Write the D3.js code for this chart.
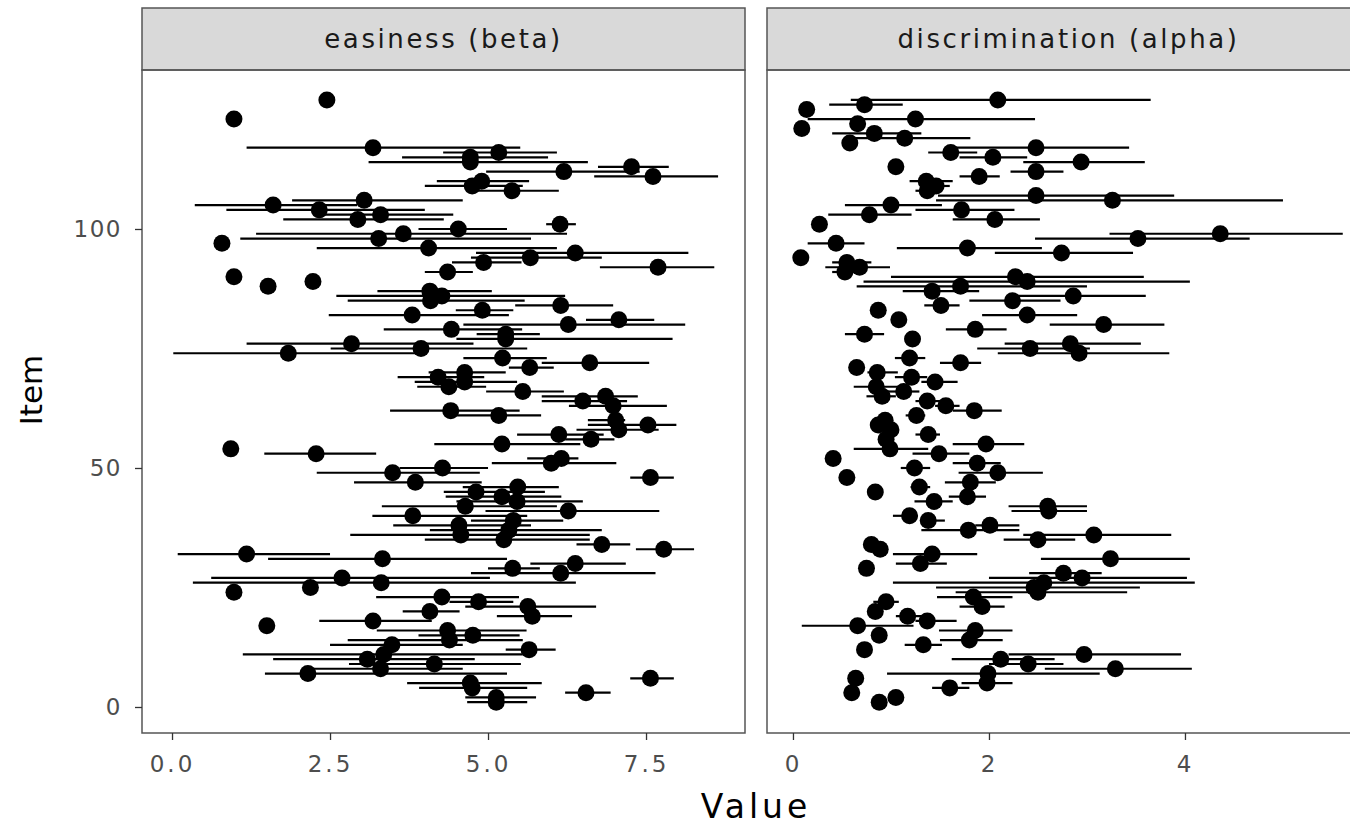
<!DOCTYPE html>
<html lang="en">
<head>
<meta charset="UTF-8">
<title>Item parameters</title>
<script src="https://d3js.org/d3.v7.min.js"></script>
<style>
  body { margin: 0; background: #fff; }
  .axis text { font-family: 'DejaVu Sans', sans-serif; font-size: 23px; fill: #4d4d4d; letter-spacing: 1.5px; }
  .axis.x text { letter-spacing: 3px; }
  .axis line { stroke: #333; stroke-width: 1.3px; }
  .axis path { display: none; }
  .strip text { font-family: 'DejaVu Sans', sans-serif; font-size: 26px; fill: #1a1a1a; letter-spacing: 2.6px; }
  .title { font-family: 'DejaVu Sans', sans-serif; font-size: 31px; fill: #000; }
  .title.xt { font-size: 33px; letter-spacing: 4px; }
</style>
</head>
<body>
<div id="chart"></div>
<script>
// easiness (beta): item, estimate, interval (null = no bar drawn)
const betaItem  = [127,123,117,116,115,114,113,112,111,110,109,108,106,105,104,103,102,101,100,99,98,97,96,95,94,93,92,91,90,89,88,87,86,85,84,83,82,81,80,79,78,77,76,75,74,73,72,71,70,69,68,67,66,65,64,63,62,61,60,59,58,57,56,55,54,53,52,51,50,49,48,47,46,45,44,43,42,41,40,39,38,37,36,35,34,33,32,31,30,29,28,27,26,25,24,23,22,21,20,19,18,17,16,15,14,13,12,11,10,9,8,7,6,5,4,3,2,1];
const betaValue = [2.45,0.98,3.18,5.17,4.72,4.72,7.27,6.20,7.61,4.90,4.75,5.38,3.04,1.60,2.33,3.30,2.94,6.14,4.53,3.66,3.27,0.79,4.06,6.38,5.67,4.93,7.69,4.36,0.98,2.23,1.52,4.08,4.27,4.09,6.15,4.91,3.80,7.07,6.27,4.42,5.28,5.28,2.84,3.94,1.84,5.23,6.61,5.66,4.63,4.21,4.63,4.38,5.55,6.86,6.50,6.98,4.41,5.17,7.02,7.53,7.07,6.12,6.63,5.22,0.93,2.28,6.16,6.00,4.28,3.49,7.57,3.85,5.47,4.81,5.22,5.46,4.64,6.27,3.81,5.40,4.54,5.33,4.57,5.25,6.80,7.78,1.18,3.33,6.38,5.39,6.15,2.69,3.31,2.19,0.98,4.27,4.85,5.63,4.08,5.70,3.18,1.50,4.36,4.76,4.39,3.48,5.65,3.35,3.09,4.15,3.30,2.15,7.57,4.72,4.75,6.55,5.13,5.13];
const betaLow   = [null,null,1.18,4.29,3.64,3.11,6.74,4.97,6.68,4.19,4.00,4.70,1.90,0.36,0.86,2.40,1.76,5.92,3.90,1.33,1.08,null,2.29,4.81,4.73,4.43,6.77,4.00,null,null,null,3.25,2.60,2.78,5.43,4.49,2.48,6.55,4.61,3.35,4.82,4.50,1.18,2.51,0.02,4.61,5.85,5.33,4.06,3.57,3.84,3.88,4.97,5.85,5.85,6.28,3.45,4.51,6.58,6.58,6.40,5.46,6.22,4.15,null,1.46,5.62,5.06,3.60,2.29,7.25,2.88,4.60,4.30,4.33,4.50,3.32,4.96,3.17,4.73,3.50,4.08,2.82,4.00,6.40,7.34,0.09,1.52,5.67,5.00,4.73,0.62,0.33,null,null,3.23,4.39,4.64,3.65,5.14,2.33,null,3.24,3.90,2.78,2.50,5.28,1.12,1.60,2.80,2.20,1.47,7.25,3.72,3.91,6.22,4.64,4.67];
const betaHigh  = [null,null,5.51,6.09,5.95,6.58,7.86,7.40,8.64,5.65,5.55,6.12,4.60,2.93,4.00,4.45,4.30,6.39,5.30,6.25,5.68,null,6.09,8.17,6.80,5.53,8.58,4.76,null,null,null,5.06,6.22,5.58,6.98,5.40,5.33,7.63,8.12,5.54,5.82,7.92,4.77,5.62,3.91,5.93,7.55,6.04,5.28,4.94,5.46,4.97,6.20,7.37,7.20,7.83,5.50,5.84,7.17,7.98,7.70,6.83,7.00,6.46,null,3.23,6.43,7.03,5.00,4.87,7.94,4.90,6.12,5.90,6.16,6.50,6.09,7.71,5.62,6.19,5.68,6.80,6.61,6.61,7.25,8.26,2.50,5.30,7.18,5.82,7.65,5.03,6.39,null,null,5.49,5.40,6.71,4.55,6.33,4.11,null,5.61,5.50,5.55,4.60,6.07,5.55,4.79,5.52,4.60,5.30,7.94,5.85,5.62,6.94,5.76,5.62];

// discrimination (alpha)
const alphaItem  = [127,126,125,123,122,121,120,119,118,117,116,115,114,113,112,111,110,109,108,107,106,105,104,103,102,101,99,98,97,96,95,94,93,92,91,90,89,88,87,86,85,84,83,82,81,80,79,78,77,76,75,74,73,72,71,70,69,68,67,66,65,64,63,62,61,60,59,58,57,56,55,54,53,52,51,50,49,48,47,46,45,44,43,42,41,40,39,38,37,36,35,34,33,32,31,30,29,28,27,26,25,24,23,22,21,20,19,18,17,16,15,14,13,12,11,10,9,8,7,6,5,4,3,2,1];
const alphaValue = [2.09,0.73,0.14,1.25,0.66,0.09,0.83,1.14,0.58,2.48,1.61,2.04,2.94,1.05,2.48,1.90,1.36,1.46,1.37,2.48,3.26,1.00,1.72,0.78,2.06,0.27,4.36,3.52,0.44,1.78,2.74,0.08,0.55,0.68,0.53,2.27,2.39,1.71,1.42,2.86,2.24,1.51,0.87,2.39,1.08,3.17,1.86,0.73,1.22,2.83,2.42,2.92,1.19,1.71,0.65,0.86,1.21,1.45,0.85,1.13,0.91,1.37,1.56,1.85,1.26,0.94,0.87,1.00,1.38,0.95,1.97,0.99,1.49,0.41,1.88,1.24,2.09,0.55,1.81,1.29,0.84,1.78,1.44,2.60,2.61,1.19,1.38,2.01,1.79,3.07,2.50,0.80,0.89,1.42,3.24,1.30,0.75,2.76,2.95,2.56,2.46,2.50,1.84,0.95,1.93,0.84,1.17,1.37,0.66,1.86,0.88,1.80,1.33,0.73,2.97,2.12,2.40,3.29,1.99,0.64,1.98,1.60,0.60,1.05,0.88];
const alphaLow   = [0.59,0.37,null,0.15,null,null,0.40,0.60,null,1.61,1.38,1.70,2.35,null,2.22,1.70,1.19,1.30,1.25,1.48,1.46,0.53,1.25,0.36,1.63,null,3.23,2.47,0.15,1.06,2.06,null,0.40,0.33,0.40,1.00,0.72,0.65,1.12,2.20,1.80,1.34,null,1.93,null,2.62,1.56,0.53,null,2.16,1.88,2.09,1.04,1.50,null,0.76,1.04,1.31,0.62,0.97,0.75,1.25,1.45,1.63,1.15,null,null,null,1.25,null,1.63,0.62,1.22,null,1.63,1.10,1.69,null,1.55,1.20,null,1.59,1.24,2.20,2.23,1.02,1.31,1.86,1.31,2.35,2.15,null,null,1.02,2.53,1.05,null,2.41,2.00,1.02,1.46,1.66,1.47,0.82,1.70,null,1.05,1.25,0.09,1.49,null,1.50,1.14,null,2.20,1.62,2.00,2.57,0.96,null,1.72,1.42,null,null,null];
const alphaHigh  = [3.65,1.12,null,2.47,null,null,1.31,1.81,null,3.43,1.88,2.39,3.59,null,2.76,2.11,1.63,1.60,1.50,3.89,5.00,1.52,2.26,1.21,2.52,null,5.61,4.66,0.73,2.54,3.47,null,0.80,0.99,0.70,3.58,4.05,3.00,1.90,3.60,2.73,1.70,null,2.90,null,3.79,2.18,0.93,null,3.55,3.03,3.84,1.35,1.92,null,1.07,1.37,1.68,1.15,1.29,1.05,1.50,1.70,2.13,1.35,null,null,null,1.50,null,2.36,1.38,1.80,null,2.12,1.40,2.55,null,2.07,1.40,null,1.97,1.63,3.00,3.00,1.27,1.55,2.31,2.31,3.86,2.88,null,null,1.88,4.05,1.57,null,3.15,4.02,4.10,3.54,3.41,2.24,1.08,2.16,null,1.40,1.67,1.23,2.24,null,2.14,1.52,null,3.96,2.67,2.76,4.07,3.13,null,2.24,1.80,null,null,null];

const stripLabels = ["easiness (beta)", "discrimination (alpha)"];
const itemTicks = [0, 50, 100];

const width = 1350, height = 830;
const panelTop = 70, panelBottom = 733, stripTop = 8;

const svg = d3.select('#chart').append('svg')
  .attr('width', width)
  .attr('height', height);

const y = d3.scaleLinear().domain([-5.44, 133.26]).range([panelBottom, panelTop]);

const panels = [
  { label: stripLabels[0], x0: 142, x1: 745, domain: [-0.475, 9.066], ticks: [0, 2.5, 5, 7.5], fmt: d3.format('.1f'),
    item: betaItem, value: betaValue, low: betaLow, high: betaHigh },
  { label: stripLabels[1], x0: 767, x1: 1370, domain: [-0.265, 5.888], ticks: [0, 2, 4], fmt: d3.format('d'),
    item: alphaItem, value: alphaValue, low: alphaLow, high: alphaHigh }
];

panels.forEach((p, k) => {
  const x = d3.scaleLinear().domain(p.domain).range([p.x0, p.x1]);
  const rows = p.item.map((it, i) => ({ item: it, value: p.value[i], low: p.low[i], high: p.high[i] }));

  const g = svg.append('g');

  // strip on top
  const strip = g.append('g').attr('class', 'strip');
  strip.append('rect')
    .attr('x', p.x0).attr('y', stripTop)
    .attr('width', p.x1 - p.x0).attr('height', panelTop - stripTop)
    .attr('fill', '#d9d9d9').attr('stroke', '#555').attr('stroke-width', 1.5);
  strip.append('text')
    .attr('x', (p.x0 + p.x1) / 2).attr('y', (stripTop + panelTop) / 2)
    .attr('text-anchor', 'middle').attr('dominant-baseline', 'central')
    .text(p.label);

  // error bars
  g.selectAll('.bar')
    .data(rows.filter(d => d.low !== null))
    .enter().append('line')
    .attr('x1', d => x(d.low)).attr('x2', d => x(d.high))
    .attr('y1', d => y(d.item)).attr('y2', d => y(d.item))
    .attr('stroke', '#000').attr('stroke-width', 2.2);

  // points
  g.selectAll('.pt')
    .data(rows)
    .enter().append('circle')
    .attr('cx', d => x(d.value)).attr('cy', d => y(d.item))
    .attr('r', 8.5).attr('fill', '#000');

  // panel border
  g.append('rect')
    .attr('x', p.x0).attr('y', panelTop)
    .attr('width', p.x1 - p.x0).attr('height', panelBottom - panelTop)
    .attr('fill', 'none').attr('stroke', '#555').attr('stroke-width', 1.5);

  // x axis
  g.append('g').attr('class', 'axis x')
    .attr('transform', `translate(0,${panelBottom})`)
    .call(d3.axisBottom(x).tickValues(p.ticks).tickFormat(p.fmt).tickSize(7).tickPadding(16));

  // y axis only on first panel
  if (k === 0) {
    g.append('g').attr('class', 'axis')
      .attr('transform', `translate(${p.x0},0)`)
      .call(d3.axisLeft(y).tickValues(itemTicks).tickSize(7).tickPadding(13));
  }
});

// axis titles
svg.append('text').attr('class', 'title xt')
  .attr('x', 756).attr('y', 818)
  .attr('text-anchor', 'middle')
  .text('Value');

svg.append('text').attr('class', 'title')
  .attr('transform', 'translate(42,390) rotate(-90)')
  .attr('text-anchor', 'middle')
  .text('Item');
</script>
</body>
</html>
